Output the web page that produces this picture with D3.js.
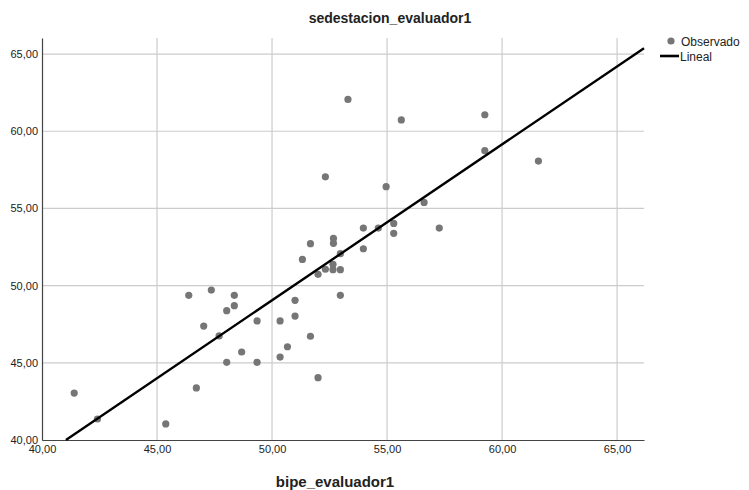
<!DOCTYPE html>
<html>
<head>
<meta charset="utf-8">
<script src="https://cdn.jsdelivr.net/npm/d3@7"></script>
<style>
  body { margin: 0; background: #fff; }
  text { font-family: "Liberation Sans Narrow", "Liberation Sans", Arial, sans-serif; }
</style>
</head>
<body>
<div id="chart"></div>
<script>
// observed values (bipe_evaluador1 , sedestacion_evaluador1)
var bipe = [41.40, 42.41, 45.38, 46.38, 47.36, 48.36, 48.36, 48.03, 47.03, 47.70,
            49.35, 48.68, 48.03, 49.35, 46.71, 50.35, 50.35, 53.97, 54.62, 55.29,
            55.29, 53.97, 52.67, 52.67, 51.67, 51.32, 52.97, 52.00, 52.32, 52.65,
            52.65, 52.97, 52.97, 51.00, 51.00, 51.67, 50.67, 52.00, 53.30, 55.62,
            52.32, 54.96, 56.61, 59.25, 59.25, 61.58, 57.27];
var sedestacion = [43.04, 41.36, 41.04, 49.37, 49.71, 49.37, 48.70, 48.38, 47.38, 46.74,
                   47.71, 45.70, 45.03, 45.03, 43.37, 47.71, 45.37, 53.73, 53.73, 54.03,
                   53.39, 52.39, 53.06, 52.74, 52.72, 51.70, 52.07, 50.73, 51.06, 51.38,
                   51.03, 51.03, 49.37, 49.05, 48.03, 46.72, 46.04, 44.04, 62.06, 60.73,
                   57.05, 56.41, 55.39, 61.07, 58.74, 58.07, 53.73];

// linear fit
var fitSlope = 1.01;
var fitIntercept = -1.45;

var tickValues = [40, 45, 50, 55, 60, 65];
var legendLabels = ["Observado", "Lineal"];

var width = 749, height = 490;
var plotLeft = 42, plotRight = 644, plotTop = 38, plotBottom = 440;

var svg = d3.select("#chart").append("svg")
    .attr("width", width)
    .attr("height", height);

var x = d3.scaleLinear().domain([40, 66.17]).range([plotLeft, plotRight]);
var y = d3.scaleLinear().domain([40, 66.04]).range([plotBottom, plotTop]);

var fmt = function (d) { return d3.format(".2f")(d).replace(".", ","); };

//Grid
svg.append("g")
    .selectAll("line")
    .data(tickValues.filter(function (d) { return d > 40; }))
    .enter().append("line")
    .attr("x1", function (d) { return x(d); })
    .attr("x2", function (d) { return x(d); })
    .attr("y1", plotTop)
    .attr("y2", plotBottom)
    .attr("stroke", "#cccccc")
    .attr("stroke-width", 1.2);

svg.append("g")
    .selectAll("line")
    .data(tickValues.filter(function (d) { return d > 40; }))
    .enter().append("line")
    .attr("x1", plotLeft)
    .attr("x2", plotRight)
    .attr("y1", function (d) { return y(d); })
    .attr("y2", function (d) { return y(d); })
    .attr("stroke", "#cccccc")
    .attr("stroke-width", 1.2);

//Axes
var xAxis = svg.append("g")
    .attr("transform", "translate(0," + plotBottom + ")")
    .call(d3.axisBottom(x).tickValues(tickValues).tickSize(0).tickFormat(fmt));
xAxis.select(".domain").attr("stroke", "#444").attr("stroke-width", 1.2);
xAxis.selectAll("text")
    .attr("dy", "0.95em")
    .attr("font-size", "11px")
    .attr("fill", "#222");

var yAxis = svg.append("g")
    .attr("transform", "translate(" + plotLeft + ",0)")
    .call(d3.axisLeft(y).tickValues(tickValues).tickSize(0).tickFormat(fmt));
yAxis.select(".domain").attr("stroke", "#444").attr("stroke-width", 1.2);
yAxis.selectAll("text")
    .attr("x", -4)
    .attr("font-size", "11px")
    .attr("fill", "#222");

//Points
var points = bipe.map(function (d, i) { return { x: d, y: sedestacion[i] }; });

svg.append("g")
    .selectAll("circle")
    .data(points)
    .enter().append("circle")
    .attr("cx", function (d) { return x(d.x); })
    .attr("cy", function (d) { return y(d.y); })
    .attr("r", 3.6)
    .attr("fill", "#767676");

//Fit line
var x0 = (40 - fitIntercept) / fitSlope;
var x1 = 66.17;
svg.append("line")
    .attr("x1", x(x0))
    .attr("y1", y(fitIntercept + fitSlope * x0))
    .attr("x2", x(x1))
    .attr("y2", y(fitIntercept + fitSlope * x1))
    .attr("stroke", "#000")
    .attr("stroke-width", 2.4);

//Titles
svg.append("text")
    .attr("x", 390)
    .attr("y", 23)
    .attr("text-anchor", "middle")
    .attr("font-size", "14px")
    .attr("font-weight", "bold")
    .attr("fill", "#222")
    .text("sedestacion_evaluador1");

svg.append("text")
    .attr("x", 335)
    .attr("y", 487)
    .attr("text-anchor", "middle")
    .attr("font-size", "15px")
    .attr("font-weight", "bold")
    .attr("fill", "#222")
    .text("bipe_evaluador1");

//Legend
var legend = svg.append("g");
legend.append("circle")
    .attr("cx", 671)
    .attr("cy", 41)
    .attr("r", 3.6)
    .attr("fill", "#767676");
legend.append("text")
    .attr("x", 681)
    .attr("y", 45.5)
    .attr("font-size", "12px")
    .attr("fill", "#222")
    .text(legendLabels[0]);
legend.append("line")
    .attr("x1", 660)
    .attr("x2", 679)
    .attr("y1", 56)
    .attr("y2", 56)
    .attr("stroke", "#000")
    .attr("stroke-width", 2.6);
legend.append("text")
    .attr("x", 680)
    .attr("y", 60.5)
    .attr("font-size", "12px")
    .attr("fill", "#222")
    .text(legendLabels[1]);
</script>
</body>
</html>
